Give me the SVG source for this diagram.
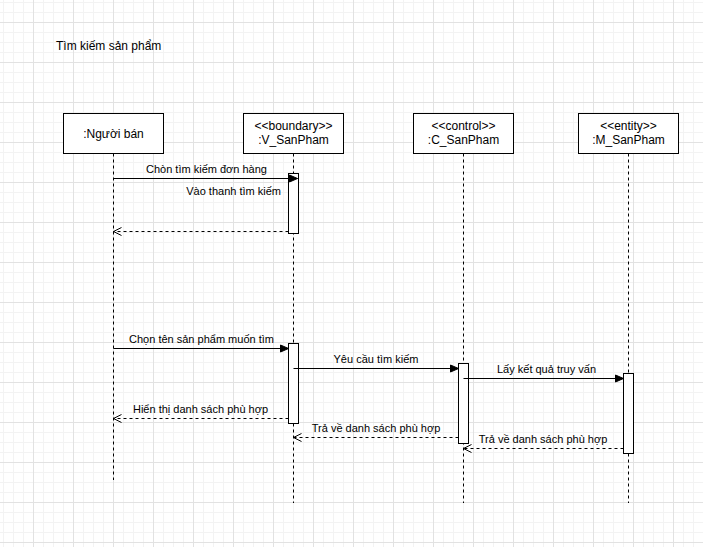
<svg xmlns="http://www.w3.org/2000/svg" width="703" height="547" viewBox="0 0 703 547">
  <defs>
    <pattern id="grid" patternUnits="userSpaceOnUse" x="-7" y="-18" width="40" height="40">
      <rect x="10" y="0" width="1" height="40" fill="#f3f3f3"/>
      <rect x="20" y="0" width="1" height="40" fill="#f3f3f3"/>
      <rect x="30" y="0" width="1" height="40" fill="#f3f3f3"/>
      <rect x="0" y="10" width="40" height="1" fill="#f3f3f3"/>
      <rect x="0" y="20" width="40" height="1" fill="#f3f3f3"/>
      <rect x="0" y="30" width="40" height="1" fill="#f3f3f3"/>
      <rect x="0" y="0" width="1" height="40" fill="#e2e2e2"/>
      <rect x="0" y="0" width="40" height="1" fill="#e2e2e2"/>
    </pattern>
    <marker id="block" markerUnits="userSpaceOnUse" markerWidth="10" markerHeight="9" refX="9" refY="4.5" orient="auto">
      <path d="M1,1 L9,4.5 L1,8 z" fill="#000" stroke="#000" stroke-width="1"/>
    </marker>
    <marker id="open" markerUnits="userSpaceOnUse" markerWidth="11" markerHeight="11" refX="9" refY="5.5" orient="auto">
      <path d="M1,1.5 L9,5.5 L1,9.5" fill="none" stroke="#000" stroke-width="1"/>
    </marker>
  </defs>
  <style>
    text { font-family: "Liberation Sans", Arial, sans-serif; fill: #000; }
    .title { font-size: 12px; }
    .head rect { fill: #fff; stroke: #000; stroke-width: 1; }
    .head text { font-size: 12px; text-anchor: middle; }
    .life { stroke: #000; stroke-width: 1; stroke-dasharray: 3 3; fill: none; }
    .bar { fill: #fff; stroke: #000; stroke-width: 1; }
    .msg { stroke: #000; stroke-width: 1; fill: none; marker-end: url(#block); }
    .ret { stroke: #000; stroke-width: 1; fill: none; stroke-dasharray: 3 3; marker-end: url(#open); }
    .lbl { font-size: 11px; text-anchor: middle; }
  </style>

  <rect x="0" y="0" width="703" height="547" fill="#fff"/>
  <rect x="0" y="0" width="703" height="547" fill="url(#grid)"/>

  <text class="title" x="56" y="49.5">Tìm kiếm sản phẩm</text>

  <!-- lifeline: seller -->
  <g id="nguoi-ban" class="head">
    <line class="life" x1="113.5" y1="153.5" x2="113.5" y2="480"/>
    <rect x="63.5" y="113.5" width="100" height="40"/>
    <text x="113.5" y="137.5">:Người bán</text>
  </g>

  <!-- lifeline: boundary -->
  <g id="v-sanpham" class="head">
    <line class="life" x1="293.5" y1="153.5" x2="293.5" y2="503"/>
    <rect x="243.5" y="113.5" width="100" height="40"/>
    <text x="293.5" y="130">&lt;&lt;boundary&gt;&gt;</text>
    <text x="293.5" y="144">:V_SanPham</text>
    <rect class="bar" x="288.5" y="173.5" width="10" height="60"/>
    <rect class="bar" x="288.5" y="343.5" width="10" height="80"/>
  </g>

  <!-- lifeline: control -->
  <g id="c-sanpham" class="head">
    <line class="life" x1="463.5" y1="153.5" x2="463.5" y2="503"/>
    <rect x="413.5" y="113.5" width="100" height="40"/>
    <text x="463.5" y="130">&lt;&lt;control&gt;&gt;</text>
    <text x="463.5" y="144">:C_SanPham</text>
    <rect class="bar" x="458.5" y="363.5" width="10" height="80"/>
  </g>

  <!-- lifeline: entity -->
  <g id="m-sanpham" class="head">
    <line class="life" x1="628.5" y1="153.5" x2="628.5" y2="503"/>
    <rect x="578.5" y="113.5" width="100" height="40"/>
    <text x="628.5" y="130">&lt;&lt;entity&gt;&gt;</text>
    <text x="628.5" y="144">:M_SanPham</text>
    <rect class="bar" x="623.5" y="373.5" width="10" height="80"/>
  </g>

  <!-- messages -->
  <g id="connectors">
    <line class="msg" x1="113.5" y1="178.5" x2="297.5" y2="178.5"/>
    <text class="lbl" x="206.5" y="173">Chòn tìm kiếm đơn hàng</text>
    <text x="281" y="195" font-size="11" text-anchor="end">Vào thanh tìm kiếm</text>

    <line class="ret" x1="288.5" y1="231.5" x2="113.5" y2="231.5"/>

    <line class="msg" x1="113.5" y1="348.5" x2="288.5" y2="348.5"/>
    <text class="lbl" x="201.5" y="342.5">Chọn tên sản phẩm muốn tìm</text>

    <line class="msg" x1="293.5" y1="368.5" x2="458.5" y2="368.5"/>
    <text class="lbl" x="376" y="362.5">Yêu cầu tìm kiếm</text>

    <line class="msg" x1="463.5" y1="378.5" x2="623.5" y2="378.5"/>
    <text class="lbl" x="546.5" y="372.5">Lấy kết quả truy vấn</text>

    <line class="ret" x1="288.5" y1="418.5" x2="113.5" y2="418.5"/>
    <text class="lbl" x="200.5" y="412.5">Hiển thị danh sách phù hợp</text>

    <line class="ret" x1="458.5" y1="437.5" x2="293.5" y2="437.5"/>
    <text class="lbl" x="376" y="432">Trả về danh sách phù hợp</text>

    <line class="ret" x1="623.5" y1="448.5" x2="463.5" y2="448.5"/>
    <text class="lbl" x="543" y="442.5">Trả về danh sách phù hợp</text>
  </g>
</svg>
